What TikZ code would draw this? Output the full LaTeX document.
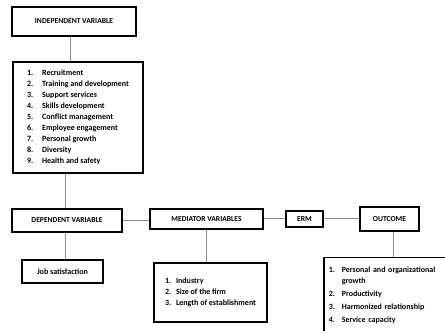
\documentclass[tikz,border=0pt]{standalone}
\usepackage{fontspec}
\setmainfont{Carlito}
\usepackage{array}
\usetikzlibrary{positioning}
\definecolor{wire}{HTML}{8C8C8C}

\begin{document}
\begin{tikzpicture}[x=1pt,y=-1pt,
  box/.style={draw,line width=1.5pt,inner sep=0pt,font=\fontsize{7.6}{9}\selectfont\bfseries,align=center},
  listbox/.style={draw,line width=1.5pt,inner sep=0pt,font=\fontsize{8}{11}\selectfont\bfseries},
  link/.style={draw=wire,line width=1pt}
]
\useasboundingbox (0,0) rectangle (445,331);
\clip (0,0) rectangle (445,331);
\node[box,minimum width=124pt,minimum height=29pt] (indep) at (74,21.5) {INDEPENDENT VARIABLE};
\node[listbox,minimum width=130pt,minimum height=111pt] (indlist) at (78,117.5)
  {\begin{tabular}{@{}p{15pt}@{}l@{}}
   1.&Recruitment\\ 2.&Training and development\\ 3.&Support services\\
   4.&Skills development\\ 5.&Conflict management\\ 6.&Employee engagement\\
   7.&Personal growth\\ 8.&Diversity\\ 9.&Health and safety
   \end{tabular}};
\node[box,minimum width=110pt,minimum height=23pt] (dep) at (67,220.5) {DEPENDENT VARIABLE};
\node[listbox,minimum width=81pt,minimum height=23pt] (job) at (62.5,271.5) {Job satisfaction};
\node[box,minimum width=113pt,minimum height=20pt] (med) at (206.5,219) {MEDIATOR VARIABLES};
\node[listbox,minimum width=113pt,minimum height=59pt] (medlist) at (210.5,292.5)
  {\begin{tabular}{@{}p{11pt}@{}l@{}}
   1.&Industry\\ 2.&Size of the firm\\ 3.&Length of establishment
   \end{tabular}};
\node[box,minimum width=37pt,minimum height=16pt] (erm) at (304.5,219) {ERM};
\node[box,minimum width=59pt,minimum height=24pt] (outc) at (389.5,219) {OUTCOME};
\node[listbox,anchor=north west,minimum width=135pt,minimum height=76pt,
      inner xsep=5pt,text width=125pt,align=left] (outlist) at (323,257)
  {\begin{tabular}{@{}p{13pt}@{}l@{}}
   1.&Personal and organizational\\ &growth\\[2pt] 2.&Productivity\\[2pt]
   3.&Harmonized relationship\\[2pt] 4.&Service capacity
   \end{tabular}};
% connectors
\draw[link] ([xshift=-4pt]indep.south) -- ([xshift=-4pt]indep.south |- indlist.north);
\draw[link] ([xshift=-2pt]dep.north) -- ([xshift=-2pt]dep.north |- indlist.south);
\draw[link] ([xshift=-2pt]dep.south) -- ([xshift=-2pt]dep.south |- job.north);
\draw[link] (dep.east) -- (dep.east -| med.west);
\draw[link] (med.south) -- (med.south |- medlist.north);
\draw[link] (med.east) -- (erm.west);
\draw[link] (erm.east) -- (outc.west);
\draw[link] ([xshift=3.5pt]outc.south) -- ([xshift=3.5pt]outc.south |- outlist.north);
\end{tikzpicture}
\end{document}
